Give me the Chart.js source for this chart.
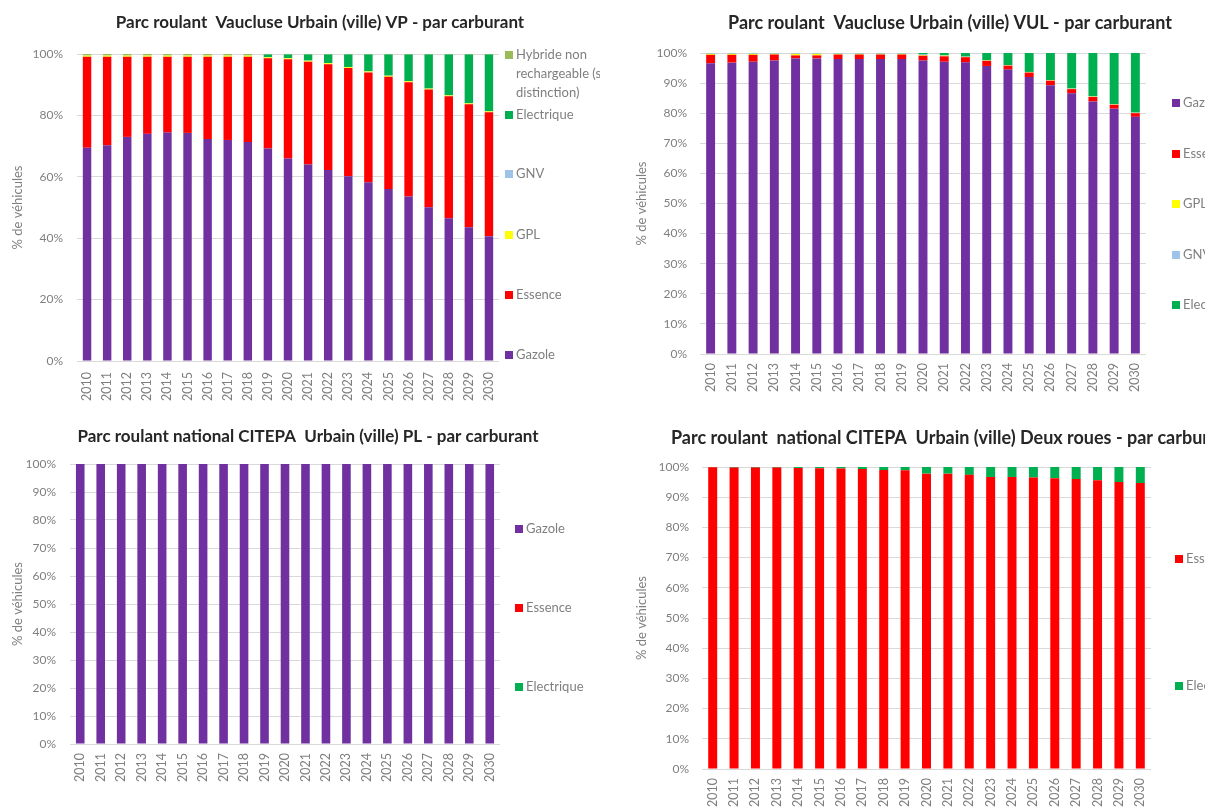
<!DOCTYPE html>
<html>
<head>
<meta charset="utf-8">
<script src="https://cdn.jsdelivr.net/npm/chart.js@4/dist/chart.umd.min.js"></script>
<style>
  html, body { margin: 0; padding: 0; background: #fff; width: 1215px; height: 809px; overflow: hidden; }
  canvas { position: absolute; }
</style>
</head>
<body>
<canvas id="vp"  style="left:0px;top:0px"     width="600" height="412"></canvas>
<canvas id="vul" style="left:605px;top:0px"   width="600" height="412"></canvas>
<canvas id="pl"  style="left:0px;top:412px"   width="600" height="397"></canvas>
<canvas id="dr"  style="left:605px;top:412px" width="600" height="397"></canvas>
<script>
// Years on the horizontal axis
const years = ['2010','2011','2012','2013','2014','2015','2016','2017','2018','2019','2020',
               '2021','2022','2023','2024','2025','2026','2027','2028','2029','2030'];

// Fuel labels
const labelGazole = 'Gazole';
const labelEssence = 'Essence';
const labelGPL = 'GPL';
const labelGNV = 'GNV';
const labelElectrique = 'Electrique';
const labelHybride = 'Hybride non rechargeable (sans distinction)';

// Titles
const titleVP  = 'Parc roulant  Vaucluse Urbain (ville) VP - par carburant';
const titleVUL = 'Parc roulant  Vaucluse Urbain (ville) VUL - par carburant';
const titlePL  = 'Parc roulant national CITEPA  Urbain (ville) PL - par carburant';
const titleDR  = 'Parc roulant  national CITEPA  Urbain (ville) Deux roues - par carburant';
const axisTitle = '% de véhicules';

// VP shares (%)
const vpGazole     = [69.5,70.3,73.0,74.0,74.4,74.3,72.3,72.0,71.3,69.2,66.0,64.0,62.2,60.2,58.2,56.0,53.6,50.1,46.5,43.6,40.6];
const vpEssence    = [29.6,28.8,26.1,25.1,24.7,24.8,26.8,27.1,27.8,29.4,32.3,33.5,34.5,35.2,35.8,36.6,37.2,38.3,39.7,40.0,40.4];
const vpGPL        = [0.4,0.4,0.4,0.4,0.4,0.4,0.4,0.4,0.4,0.3,0.3,0.3,0.3,0.3,0.3,0.3,0.3,0.3,0.3,0.3,0.3];
const vpGNV        = [0.05,0.05,0.05,0.05,0.05,0.05,0.05,0.05,0.05,0.05,0.05,0.05,0.05,0.05,0.05,0.05,0.05,0.05,0.05,0.05,0.05];
const vpElectrique = [0.1,0.1,0.1,0.1,0.1,0.1,0.1,0.1,0.1,0.9,1.2,2.0,2.8,4.1,5.5,6.9,8.7,11.1,13.3,15.9,18.5];
const vpHybride    = [0.35,0.35,0.35,0.35,0.35,0.35,0.35,0.35,0.35,0.15,0.15,0.15,0.15,0.15,0.15,0.15,0.15,0.15,0.15,0.15,0.15];

// VUL shares (%)
const vulGazole     = [96.6,96.8,97.1,97.5,98.2,98.2,98.0,98.0,98.0,98.0,97.5,97.1,96.9,95.7,94.5,92.0,89.3,86.6,83.9,81.5,78.8];
const vulEssence    = [2.8,2.6,2.3,2.0,1.0,1.0,1.5,1.5,1.5,1.5,1.6,1.8,1.7,1.7,1.3,1.5,1.5,1.4,1.5,1.3,1.2];
const vulGPL        = [0.3,0.3,0.3,0.2,0.5,0.5,0.2,0.2,0.2,0.2,0.2,0.2,0.1,0.1,0.1,0.1,0.1,0.1,0.1,0.1,0.1];
const vulGNV        = [0.2,0.2,0.2,0.2,0.2,0.2,0.2,0.2,0.2,0.2,0.2,0.1,0.1,0.1,0.1,0.1,0.1,0.1,0.1,0.1,0.1];
const vulElectrique = [0.1,0.1,0.1,0.1,0.1,0.1,0.1,0.1,0.1,0.1,0.5,0.8,1.2,2.4,4.0,6.3,9.0,11.8,14.4,17.0,19.8];

// PL shares (%)
const plGazole     = [100,100,100,100,100,100,100,100,100,100,100,100,100,100,100,100,100,100,100,100,100];
const plEssence    = [0,0,0,0,0,0,0,0,0,0,0,0,0,0,0,0,0,0,0,0,0];
const plElectrique = [0,0,0,0,0,0,0,0,0,0,0,0,0,0,0,0,0,0,0,0,0];

// Deux roues shares (%)
const drEssence    = [99.9,99.8,99.8,99.8,99.7,99.6,99.5,99.3,99.0,98.9,97.8,97.8,97.4,96.7,96.7,96.5,96.3,96.0,95.6,95.0,94.7];
const drElectrique = [0.1,0.2,0.2,0.2,0.3,0.4,0.5,0.7,1.0,1.1,2.2,2.2,2.6,3.3,3.3,3.5,3.7,4.0,4.4,5.0,5.3];

const COLORS = {
  gazole: '#7030A0',
  essence: '#FF0000',
  gpl: '#FFFF00',
  gnv: '#9DC3E6',
  electrique: '#00B050',
  hybride: '#9BBB59'
};

const FONT = 'Lato, "Open Sans", "DejaVu Sans", sans-serif';
const TEXT_GREY = '#7f7f7f';

Chart.defaults.font.family = FONT;
Chart.defaults.color = TEXT_GREY;

// Title and right-hand legend drawn on each panel
const panelDecor = {
  id: 'panelDecor',
  afterDraw(chart, args, opts) {
    const ctx = chart.ctx;
    ctx.save();
    ctx.font = 'bold ' + opts.titleSize + 'px ' + FONT;
    ctx.fillStyle = '#262626';
    ctx.textAlign = opts.titleAlign || 'center';
    ctx.textBaseline = 'middle';
    ctx.fillText(opts.title, opts.titleX, opts.titleY);

    ctx.font = '13px ' + FONT;
    ctx.textAlign = 'left';
    opts.legend.forEach(item => {
      const ds = chart.data.datasets[item.index];
      ctx.fillStyle = ds.backgroundColor;
      ctx.fillRect(opts.legendX, item.y - 4, 8, 8);
      ctx.fillStyle = TEXT_GREY;
      const lines = item.lines || [ds.label];
      lines.forEach((line, i) => ctx.fillText(line, opts.legendX + 11, item.y + i * 19));
    });
    ctx.restore();
  }
};

function bars(label, data, color) {
  return { label, data, backgroundColor: color, borderWidth: 0,
           categoryPercentage: 1, barPercentage: 0.42 };
}

function makeChart(id, geo, datasets, decor) {
  const canvas = document.getElementById(id);
  return new Chart(canvas, {
    type: 'bar',
    data: { labels: years, datasets },
    plugins: [panelDecor],
    options: {
      responsive: false,
      animation: false,
      devicePixelRatio: 1,
      layout: { padding: { top: geo.top, right: canvas.width - geo.right, bottom: 0, left: 0 } },
      plugins: {
        legend: { display: false },
        tooltip: { enabled: false },
        title: { display: false },
        panelDecor: decor
      },
      scales: {
        x: {
          stacked: true,
          offset: true,
          grid: { display: false, drawTicks: false },
          border: { display: false },
          ticks: { minRotation: 90, maxRotation: 90, autoSkip: false, padding: geo.xPad,
                   font: { size: 12.5 }, color: TEXT_GREY },
          afterFit(scale) { scale.height = canvas.height - geo.bottom; }
        },
        y: {
          stacked: true,
          min: 0, max: 100,
          grid: { color: '#d9d9d9', lineWidth: 1, drawTicks: false },
          border: { display: false },
          ticks: { stepSize: geo.step, padding: geo.yPad, font: { size: 12 }, color: TEXT_GREY,
                   callback: v => v + '%' },
          title: { display: true, text: axisTitle, font: { size: 13 }, color: TEXT_GREY,
                   padding: { top: geo.titlePad, bottom: 0 } },
          afterFit(scale) { scale.width = geo.left; }
        }
      }
    }
  });
}

// VP
makeChart('vp',
  { left: 77, right: 499, top: 54, bottom: 361, step: 20, yPad: 14, xPad: 11, titlePad: 10 },
  [
    bars(labelGazole, vpGazole, COLORS.gazole),
    bars(labelEssence, vpEssence, COLORS.essence),
    bars(labelGPL, vpGPL, COLORS.gpl),
    bars(labelGNV, vpGNV, COLORS.gnv),
    bars(labelElectrique, vpElectrique, COLORS.electrique),
    bars(labelHybride, vpHybride, COLORS.hybride)
  ],
  { title: titleVP, titleSize: 17, titleX: 320, titleY: 23, legendX: 505,
    legend: [
      { index: 5, y: 55, lines: ['Hybride non', 'rechargeable (sans', 'distinction)'] },
      { index: 4, y: 115 },
      { index: 3, y: 174 },
      { index: 2, y: 235 },
      { index: 1, y: 295 },
      { index: 0, y: 355 }
    ] }
);

// VUL
makeChart('vul',
  { left: 95, right: 541, top: 53, bottom: 354, step: 10, yPad: 13, xPad: 9, titlePad: 29 },
  [
    bars(labelGazole, vulGazole, COLORS.gazole),
    bars(labelEssence, vulEssence, COLORS.essence),
    bars(labelGPL, vulGPL, COLORS.gpl),
    bars(labelGNV, vulGNV, COLORS.gnv),
    bars(labelElectrique, vulElectrique, COLORS.electrique)
  ],
  { title: titleVUL, titleSize: 18, titleX: 345, titleY: 23, legendX: 567,
    legend: [
      { index: 0, y: 103 },
      { index: 1, y: 154 },
      { index: 2, y: 204 },
      { index: 3, y: 255 },
      { index: 4, y: 305 }
    ] }
);

// PL
makeChart('pl',
  { left: 70, right: 500, top: 52, bottom: 332, step: 10, yPad: 14, xPad: 9, titlePad: 10 },
  [
    bars(labelGazole, plGazole, COLORS.gazole),
    bars(labelEssence, plEssence, COLORS.essence),
    bars(labelElectrique, plElectrique, COLORS.electrique)
  ],
  { title: titlePL, titleSize: 17, titleX: 308, titleY: 25, legendX: 515,
    legend: [
      { index: 0, y: 117 },
      { index: 1, y: 196 },
      { index: 2, y: 275 }
    ] }
);

// Deux roues
makeChart('dr',
  { left: 97, right: 546, top: 55, bottom: 357, step: 10, yPad: 13, xPad: 9, titlePad: 29 },
  [
    bars(labelEssence, drEssence, COLORS.essence),
    bars(labelElectrique, drElectrique, COLORS.electrique)
  ],
  { title: titleDR, titleSize: 18, titleX: 66, titleY: 26, titleAlign: 'left', legendX: 570,
    legend: [
      { index: 0, y: 147 },
      { index: 1, y: 274 }
    ] }
);
</script>
</body>
</html>
